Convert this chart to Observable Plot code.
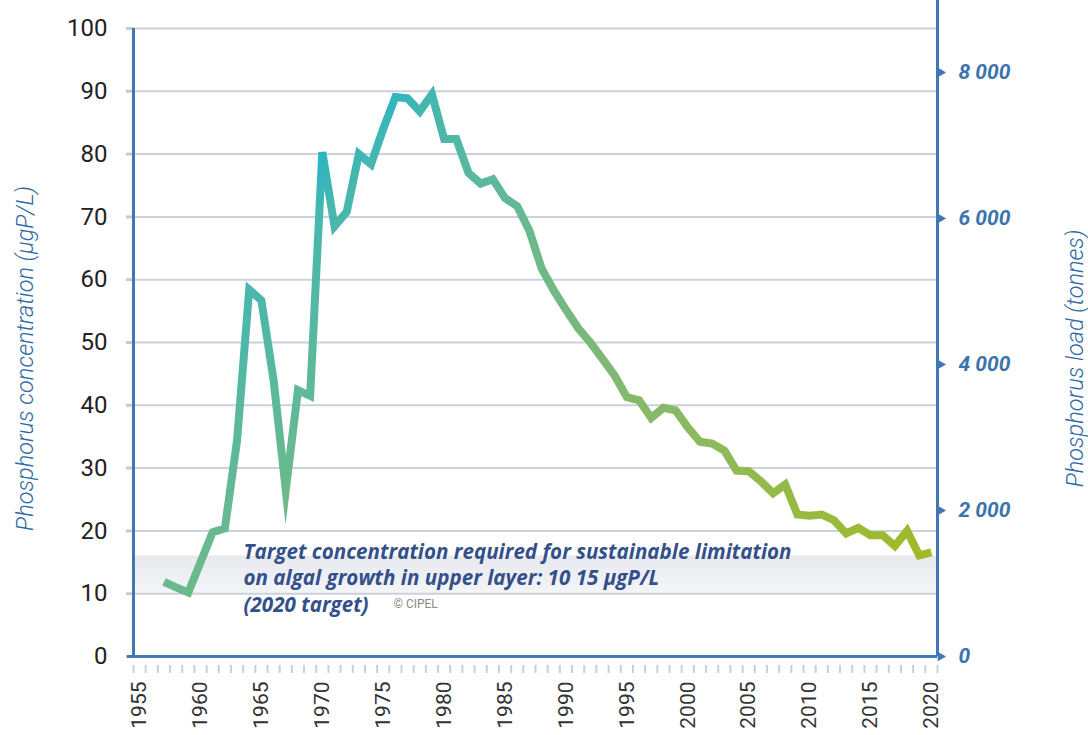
<!DOCTYPE html>
<html><head><meta charset="utf-8">
<script src="https://cdn.jsdelivr.net/npm/d3@7"></script>
<script src="https://cdn.jsdelivr.net/npm/@observablehq/plot@0.6"></script>
<style>body{margin:0;background:#fff;overflow:hidden}</style>
</head><body><div id="chart"></div>
<script>
// ---- data ----
const years = [1957,1958,1959,1960,1961,1962,1963,1964,1965,1966,1967,1968,1969,1970,1971,1972,1973,1974,1975,1976,1977,1978,1979,1980,1981,1982,1983,1984,1985,1986,1987,1988,1989,1990,1991,1992,1993,1994,1995,1996,1997,1998,1999,2000,2001,2002,2003,2004,2005,2006,2007,2008,2009,2010,2011,2012,2013,2014,2015,2016,2017,2018,2019,2020];
const concentration = [11.9,11.0,10.2,15.0,19.8,20.4,34.4,58.4,56.7,44.0,26.5,42.4,41.5,80.3,68.5,70.8,80.0,78.4,84.0,89.1,88.9,86.8,89.5,82.4,82.4,77.0,75.3,76.0,73.0,71.7,67.8,61.8,58.3,55.2,52.3,50.0,47.4,44.7,41.3,40.8,38.0,39.6,39.2,36.5,34.2,33.9,32.8,29.6,29.5,27.9,26.0,27.4,22.6,22.4,22.6,21.7,19.6,20.5,19.3,19.3,17.6,20.0,16.1,16.6];
const axisYears = [1955,1956,1957,1958,1959,1960,1961,1962,1963,1964,1965,1966,1967,1968,1969,1970,1971,1972,1973,1974,1975,1976,1977,1978,1979,1980,1981,1982,1983,1984,1985,1986,1987,1988,1989,1990,1991,1992,1993,1994,1995,1996,1997,1998,1999,2000,2001,2002,2003,2004,2005,2006,2007,2008,2009,2010,2011,2012,2013,2014,2015,2016,2017,2018,2019,2020];
const yearLabels = [1955,1960,1965,1970,1975,1980,1985,1990,1995,2000,2005,2010,2015,2020];
const yTicks = [0,10,20,30,40,50,60,70,80,90,100];
const loadTicks = [0,2000,4000,6000,8000];
const loadAt93 = 8000;            // 8 000 tonnes sits level with 93 µgP/L
const loadRefConc = 93;
const targetBand = [{lo: 10, hi: 16}];
const noteText = "Target concentration required for sustainable limitation\non algal growth in upper layer: 10 15 µgP/L\n(2020 target)";
const creditText = "© CIPEL";
const leftTitle = "Phosphorus concentration (µgP/L)";
const rightTitle = "Phosphorus load (tonnes)";

const data = years.map((y, i) => ({year: y, value: concentration[i]}));
const xDomain = [axisYears[0] - 0.5, axisYears[axisYears.length - 1] + 0.5];
const minorTicks = axisYears.map(y => y - 0.5).concat([xDomain[1]]);
const loadRows = loadTicks.map(t => ({t, c: t / loadAt93 * loadRefConc}));

const blue = "#4178b4";
const chart = Plot.plot({
  width: 1088, height: 735,
  marginLeft: 133, marginRight: 151, marginTop: 28, marginBottom: 79,
  style: {fontFamily: "Roboto, sans-serif", background: "#fff", overflow: "visible"},
  x: {domain: xDomain},
  y: {domain: [0, 100]},
  marks: [
    Plot.rectY(targetBand, {x1: xDomain[0], x2: xDomain[1], y1: "lo", y2: "hi", fill: "url(#bandGrad)"}),
    Plot.ruleY(yTicks.filter(d => d > 0), {stroke: "#cbd2dc", strokeWidth: 2}),
    Plot.axisY(yTicks, {tickSize: 7, tickPadding: 19, stroke: "#c3cbd5", strokeWidth: 3, fill: "#222", fontSize: 24, label: null}),
    Plot.axisX(minorTicks, {tickSize: 8, tickPadding: 0, dy: 9, stroke: "#c8cfd9", strokeWidth: 2, tickFormat: () => "", label: null}),
    Plot.text(yearLabels, {x: d => d, text: d => String(d), frameAnchor: "bottom", dy: 25, rotate: -90, textAnchor: "end", lineAnchor: "middle", fontSize: 21, fontFamily: "Roboto", fill: "#333"}),
    Plot.ruleX([xDomain[0]], {y1: 0, y2: 100, stroke: blue, strokeWidth: 3}),
    Plot.ruleX([xDomain[1]], {y1: 100, y2: 0, insetTop: -30, stroke: blue, strokeWidth: 3}),
    Plot.ruleY([0], {x1: xDomain[0], x2: xDomain[1], insetLeft: -6, stroke: blue, strokeWidth: 3}),
    Plot.dot(loadRows, {y: "c", frameAnchor: "right", dx: 3, symbol: "triangle", rotate: 90, r: 3.6, fill: blue, stroke: null}),
    Plot.text(loadRows, {y: "c", text: d => d3.format(",")(d.t).replace(",", " "), frameAnchor: "right", dx: 21, textAnchor: "start", fontSize: 21, fontWeight: "bold", fontStyle: "italic", fill: "#3a73ad"}),
    Plot.text([leftTitle], {frameAnchor: "left", dx: -108, dy: 16, rotate: -90, textAnchor: "middle", fontSize: 23.5, fontStyle: "italic", fontWeight: 300, fill: "#2f6aa5"}),
    Plot.text([rightTitle], {frameAnchor: "right", dx: 138, dy: 16, rotate: -90, textAnchor: "middle", fontSize: 23.5, fontStyle: "italic", fontWeight: 300, fill: "#2f6aa5"}),
    Plot.line(data, {x: "year", y: "value", stroke: "url(#lineGrad)", strokeWidth: 8, strokeLinejoin: "miter", strokeMiterlimit: 9, strokeLinecap: "butt"}),
    Plot.text([noteText], {frameAnchor: "bottom-left", dx: 110, dy: -45, textAnchor: "start", lineAnchor: "bottom", lineHeight: 1.27, fontSize: 20.6, fontWeight: "bold", fontStyle: "italic", fontFamily: "'Open Sans', sans-serif", fill: "#33508b"}),
    Plot.text([creditText], {frameAnchor: "bottom-left", dx: 260, dy: -49, textAnchor: "start", fontSize: 12, fill: "#8a8a8a"})
  ]
});

// gradients built from the scaled data extent
const sx = chart.scale("x"), sy = chart.scale("y");
const sums = data.map(d => sx.apply(d.year) + sy.apply(d.value));
const lo = d3.min(sums) / 2, hi = d3.max(sums) / 2;
const svg = d3.select(chart.tagName.toLowerCase() === "svg" ? chart : chart.querySelector("svg"));
const defs = svg.insert("defs", ":first-child");
const lg = defs.append("linearGradient").attr("id", "lineGrad").attr("gradientUnits", "userSpaceOnUse")
  .attr("x1", lo).attr("y1", lo).attr("x2", hi).attr("y2", hi);
[[0, "#2ab4c4"], [0.06, "#47b7af"], [0.3, "#6cb98c"], [0.66, "#8db95e"], [1, "#a2ba26"]]
  .forEach(([o, c]) => lg.append("stop").attr("offset", o).attr("stop-color", c));
const bg = defs.append("linearGradient").attr("id", "bandGrad").attr("x1", 0).attr("y1", 0).attr("x2", 0).attr("y2", 1);
[[0, "#e7e9ee"], [1, "#f4f5f8"]].forEach(([o, c]) => bg.append("stop").attr("offset", o).attr("stop-color", c));

document.getElementById("chart").append(chart);
</script>
</body></html>
